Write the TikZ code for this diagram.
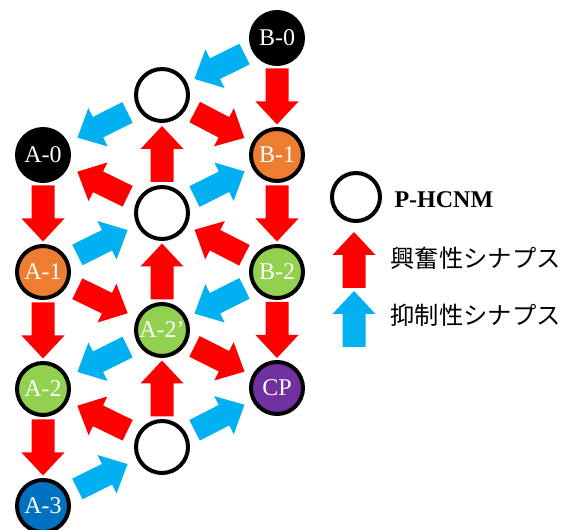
\documentclass[tikz,border=0pt]{standalone}
\usepackage{fontspec}
\setmainfont{Liberation Serif}
\newfontfamily\jpfont{Noto Sans CJK JP}
\usetikzlibrary{calc}
\definecolor{exc}{HTML}{FF0000}
\definecolor{inh}{HTML}{00B0F0}
\definecolor{orng}{HTML}{ED7D31}
\definecolor{grn}{HTML}{92D050}
\definecolor{purp}{HTML}{7030A0}
\definecolor{blu}{HTML}{0070C0}
\tikzset{
  neuron/.style={circle, draw=black, line width=4pt, minimum size=52pt, inner sep=0pt,
    text=white, font=\fontsize{24}{24}\selectfont},
  pics/barrow/.style={code={\fill[#1] (-28,-11.5) -- (5,-11.5) -- (5,-21.5) -- (28,0)
      -- (5,21.5) -- (5,11.5) -- (-28,11.5) -- cycle;}},
}
\newcommand\syn[3]{\path let \p1=($(#3)-(#2)$), \n1={atan2(\y1,\x1)} in
  ($(#2)!0.5!(#3)$) pic[rotate=\n1]{barrow=#1};}
\begin{document}
\begin{tikzpicture}[x=1pt,y=1pt]
\useasboundingbox (0,0) rectangle (574,530);
% neurons
\node[neuron, fill=black] (B0) at (277,492) {B-0};
\node[neuron, fill=white] (T1) at (162,435) {};
\node[neuron, fill=black] (A0) at (43,375) {A-0};
\node[neuron, fill=orng] (B1) at (277,375) {B-1};
\node[neuron, fill=white] (T2) at (162,317) {};
\node[neuron, fill=orng] (A1) at (43,258) {A-1};
\node[neuron, fill=grn] (B2) at (277,258) {B-2};
\node[neuron, fill=grn] (A2p) at (162,200) {A-2’};
\node[neuron, fill=grn] (A2) at (43,141) {A-2};
\node[neuron, fill=purp] (CP) at (277,142) {CP};
\node[neuron, fill=white] (T3) at (162,83) {};
\node[neuron, fill=blu] (A3) at (43,24) {A-3};
% excitatory synapses
\syn{exc}{B0}{B1}
\syn{exc}{T1}{B1}
\syn{exc}{T2}{T1}
\syn{exc}{T2}{A0}
\syn{exc}{A0}{A1}
\syn{exc}{B1}{B2}
\syn{exc}{B2}{T2}
\syn{exc}{A2p}{T2}
\syn{exc}{A1}{A2p}
\syn{exc}{A1}{A2}
\syn{exc}{B2}{CP}
\syn{exc}{A2p}{CP}
\syn{exc}{T3}{A2p}
\syn{exc}{T3}{A2}
\syn{exc}{A2}{A3}
% inhibitory synapses
\syn{inh}{B0}{T1}
\syn{inh}{T1}{A0}
\syn{inh}{T2}{B1}
\syn{inh}{A1}{T2}
\syn{inh}{B2}{A2p}
\syn{inh}{A2p}{A2}
\syn{inh}{T3}{CP}
\syn{inh}{A3}{T3}
% legend
\node[circle, draw=black, line width=4pt, minimum size=48pt, inner sep=0pt] (LC) at (356,333) {};
\node[anchor=west, font=\fontsize{24}{24}\selectfont\bfseries] (LT1) at (391,330) {P-HCNM};
\pic[rotate=90] at (354,270) {barrow=exc};
\pic[rotate=90] at (354,211) {barrow=inh};
\node[anchor=west, font=\jpfont\fontsize{24.3}{24.3}\selectfont] (LT2) at (387,272) {興奮性シナプス};
\node[anchor=west, font=\jpfont\fontsize{24.3}{24.3}\selectfont] (LT3) at (387,215) {抑制性シナプス};
\end{tikzpicture}
\end{document}
